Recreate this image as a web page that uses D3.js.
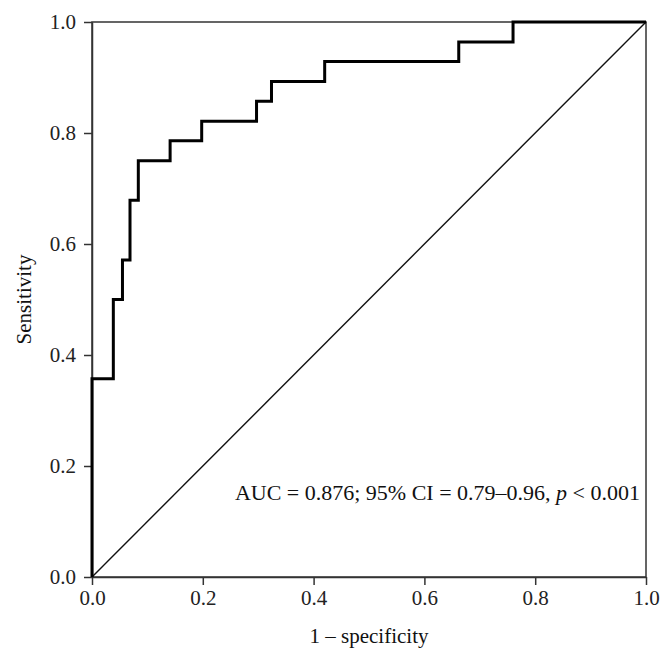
<!DOCTYPE html>
<head>
<meta charset="utf-8">
<script src="https://d3js.org/d3.v7.min.js"></script>
<style>
body { margin: 0; background: white; font-family: 'Liberation Serif', 'DejaVu Serif', serif; }
.axis text { font-family: 'Liberation Serif', serif; font-size: 21px; fill: #222; }
.axis path, .axis line { stroke: #333; stroke-width: 1.5; }
.lbl { font-family: 'Liberation Serif', serif; font-size: 21px; fill: #111; }
</style>
</head>
<body>
<div id="plotContainer"></div>
<script>

// ROC steps: 1 - specificity, sensitivity
var fpr  = [0, 0,     0.0385, 0.0385, 0.055, 0.055, 0.0686, 0.0686, 0.0836, 0.0836, 0.141, 0.141, 0.198, 0.198, 0.297, 0.297, 0.324, 0.324, 0.42,  0.42,  0.662, 0.662, 0.76,  0.76, 1.0];
var sens = [0, 0.357, 0.357,  0.5,    0.5,   0.571, 0.571,  0.679,  0.679,  0.75,   0.75,  0.786, 0.786, 0.821, 0.821, 0.857, 0.857, 0.893, 0.893, 0.929, 0.929, 0.964, 0.964, 1.0,  1.0];
var tickValues = [0, 0.2, 0.4, 0.6, 0.8, 1.0];
var xLabel = "1 \u2013 specificity";
var yLabel = "Sensitivity";

var margin = {top: 22, right: 26, bottom: 85, left: 92}
var width = 672 - margin.left - margin.right,
    height = 662 - margin.top - margin.bottom;

var svg = d3.select("#plotContainer")
    .append('svg')
    .attr('width', 672)
    .attr('height', 662)

var x = d3.scaleLinear().range([0, width]).domain([0, 1]);
var y = d3.scaleLinear().range([height, 0]).domain([0, 1]);

var g = svg.append("g")
    .attr("transform", "translate(" + margin.left + "," + margin.top + ")");

// frame
g.append("rect")
    .attr("x", 0).attr("y", 0)
    .attr("width", width).attr("height", height)
    .attr("fill", "none")
    .attr("stroke", "#333")
    .attr("stroke-width", 1.5);

g.append("g")
    .attr("class", "axis")
    .attr("transform", "translate(0," + height + ")")
    .call(d3.axisBottom(x).tickValues(tickValues).tickFormat(d3.format(".1f")).tickSizeInner(8).tickSizeOuter(0).tickPadding(5));

g.append("g")
    .attr("class", "axis")
    .call(d3.axisLeft(y).tickValues(tickValues).tickFormat(d3.format(".1f")).tickSizeInner(8).tickSizeOuter(0).tickPadding(8));

// diagonal
g.append("line")
    .attr("x1", x(0)).attr("y1", y(0))
    .attr("x2", x(1)).attr("y2", y(1))
    .attr("stroke", "#111")
    .attr("stroke-width", 1.4);

var roc = fpr.map(function(d, i) { return [d, sens[i]]; });

var line = d3.line()
    .x(function(d) { return x(d[0]); })
    .y(function(d) { return y(d[1]); });

g.append("path")
    .datum(roc)
    .attr("d", line)
    .attr("fill", "none")
    .attr("stroke", "#000")
    .attr("stroke-width", 3)
    .attr("stroke-linejoin", "miter");

// annotation
var ann = g.append("text")
    .attr("class", "lbl")
    .style("font-size", "22px")
    .attr("x", width - 6)
    .attr("y", y(0.138))
    .attr("text-anchor", "end");
ann.append("tspan").text("AUC = 0.876; 95% CI = 0.79\u20130.96, ");
ann.append("tspan").style("font-style", "italic").text("p");
ann.append("tspan").text(" < 0.001");

svg.append("text")
    .attr("class", "lbl")
    .attr("x", margin.left + width / 2)
    .attr("y", 643)
    .attr("text-anchor", "middle")
    .text(xLabel);

svg.append("text")
    .attr("class", "lbl")
    .attr("transform", "translate(31," + (margin.top + height / 2) + ") rotate(-90)")
    .attr("text-anchor", "middle")
    .text(yLabel);

</script>
</body>
